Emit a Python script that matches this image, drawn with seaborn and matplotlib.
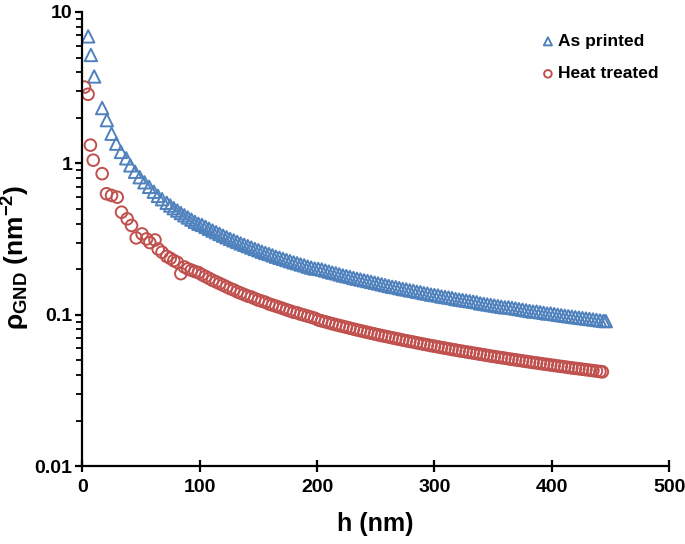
import numpy as np
import matplotlib
matplotlib.use("Agg")
import matplotlib.pyplot as plt
import pandas as pd
import seaborn as sns

# dados (h em nm, rho em nm^-2)
h_printed = [5.1, 7.4, 10.2, 17, 21, 25, 29, 33, 37.5, 41, 45, 49, 53, 57, 61, 64.5, 68,
             72, 75, 78, 81, 84, 87, 90, 93, 96, 99,
             102, 105, 108, 111, 114, 117, 120, 123, 126, 129, 132, 135, 138, 141, 144, 147,
             150, 153, 156, 159, 162, 165, 168, 171, 174, 177, 180, 183, 186, 189, 192, 195,
             198, 201, 204, 207, 210, 213, 216, 219, 222, 225, 228, 231, 234, 237, 240, 243,
             246, 249, 252, 255, 258, 261, 264, 267, 270, 273, 276, 279, 282, 285, 288, 291,
             294, 297, 300, 303, 306, 309, 312, 315, 318, 321, 324, 327, 330, 333, 336, 339,
             342, 345, 348, 351, 354, 357, 360, 363, 366, 369, 372, 375, 378, 381, 384, 387,
             390, 393, 396, 399, 402, 405, 408, 411, 414, 417, 420, 423, 426, 429, 432, 435,
             438, 441, 444, 446]
rho_printed = [6.9, 5.2, 3.75, 2.32, 1.93, 1.57, 1.35, 1.19, 1.08, 0.97, 0.88, 0.81, 0.75, 0.70, 0.65, 0.61, 0.58,
               0.549, 0.527, 0.506, 0.488, 0.470, 0.454, 0.439, 0.425, 0.411, 0.399,
               0.392, 0.381, 0.370, 0.360, 0.351, 0.342, 0.333, 0.325, 0.317, 0.310, 0.303, 0.296, 0.290, 0.284, 0.278, 0.272,
               0.267, 0.261, 0.256, 0.252, 0.247, 0.242, 0.238, 0.234, 0.230, 0.226, 0.222, 0.219, 0.215, 0.212, 0.208, 0.205,
               0.202, 0.201, 0.199, 0.196, 0.193, 0.190, 0.188, 0.185, 0.182, 0.180, 0.178, 0.175, 0.173, 0.171, 0.169, 0.167,
               0.165, 0.163, 0.161, 0.159, 0.157, 0.155, 0.153, 0.152, 0.150, 0.148, 0.147, 0.145, 0.144, 0.142, 0.141, 0.139,
               0.138, 0.136, 0.135, 0.134, 0.132, 0.131, 0.130, 0.129, 0.127, 0.126, 0.125, 0.124, 0.123, 0.122, 0.121, 0.119,
               0.118, 0.117, 0.116, 0.115, 0.114, 0.113, 0.112, 0.112, 0.111, 0.110, 0.109, 0.108, 0.107, 0.106, 0.105, 0.105,
               0.104, 0.103, 0.102, 0.102, 0.101, 0.100, 0.0993, 0.0985, 0.0978, 0.0971, 0.0964, 0.0957, 0.0951, 0.0944, 0.0938, 0.0931,
               0.0925, 0.0918, 0.0912, 0.0908]

h_treated = [2, 5, 7, 9.4, 17, 20.7, 25, 29.8, 33.5, 38.3, 42, 46, 51, 54.8, 57.6, 62, 64.7, 68,
             72, 75, 78, 81, 84, 87, 90, 93, 96, 99,
             102, 105, 108, 111, 114, 117, 120, 123, 126, 129, 132, 135, 138, 141, 144, 147,
             150, 153, 156, 159, 162, 165, 168, 171, 174, 177, 180, 183, 186, 189, 192, 195,
             198, 201, 204, 207, 210, 213, 216, 219, 222, 225, 228, 231, 234, 237, 240, 243,
             246, 249, 252, 255, 258, 261, 264, 267, 270, 273, 276, 279, 282, 285, 288, 291,
             294, 297, 300, 303, 306, 309, 312, 315, 318, 321, 324, 327, 330, 333, 336, 339,
             342, 345, 348, 351, 354, 357, 360, 363, 366, 369, 372, 375, 378, 381, 384, 387,
             390, 393, 396, 399, 402, 405, 408, 411, 414, 417, 420, 423, 426, 429, 432, 435,
             438, 441, 443]
rho_treated = [3.19, 2.86, 1.32, 1.05, 0.855, 0.63, 0.614, 0.598, 0.476, 0.43, 0.389, 0.322, 0.342, 0.317, 0.30, 0.312, 0.272, 0.259,
               0.243, 0.236, 0.228, 0.222, 0.187, 0.207, 0.201, 0.197, 0.193, 0.190,
               0.184, 0.179, 0.174, 0.169, 0.165, 0.161, 0.157, 0.153, 0.149, 0.146, 0.142, 0.139, 0.136, 0.133, 0.131, 0.128,
               0.125, 0.123, 0.121, 0.118, 0.116, 0.114, 0.112, 0.110, 0.108, 0.106, 0.104, 0.103, 0.101, 0.0995, 0.0979, 0.0964,
               0.0949, 0.0925, 0.0912, 0.0899, 0.0886, 0.0873, 0.0861, 0.0849, 0.0838, 0.0827, 0.0816, 0.0805, 0.0795, 0.0785, 0.0775, 0.0765,
               0.0756, 0.0747, 0.0738, 0.0729, 0.0721, 0.0713, 0.0705, 0.0697, 0.0689, 0.0681, 0.0674, 0.0667, 0.0660, 0.0653, 0.0646, 0.0639,
               0.0633, 0.0626, 0.0620, 0.0614, 0.0608, 0.0602, 0.0596, 0.0590, 0.0585, 0.0579, 0.0574, 0.0569, 0.0564, 0.0559, 0.0554, 0.0549,
               0.0544, 0.0539, 0.0534, 0.0530, 0.0525, 0.0521, 0.0517, 0.0512, 0.0508, 0.0504, 0.0500, 0.0496, 0.0492, 0.0488, 0.0484, 0.0481,
               0.0477, 0.0473, 0.0470, 0.0466, 0.0463, 0.0459, 0.0456, 0.0453, 0.0449, 0.0446, 0.0443, 0.0440, 0.0437, 0.0434, 0.0431, 0.0428,
               0.0425, 0.0422, 0.0420]

azul = '#4F81BD'
vermelho = '#C0504D'

sns.set_style("ticks")
plt.rcParams['font.family'] = ['Liberation Sans', 'DejaVu Sans']
plt.rcParams['font.weight'] = 'bold'
plt.rcParams['text.color'] = 'black'
plt.rcParams['axes.labelcolor'] = 'black'
plt.rcParams['xtick.color'] = 'black'
plt.rcParams['ytick.color'] = 'black'
plt.rcParams['mathtext.fontset'] = 'custom'
plt.rcParams['mathtext.rm'] = 'Liberation Sans:bold'
plt.rcParams['mathtext.it'] = 'Liberation Sans:bold'
plt.rcParams['mathtext.bf'] = 'Liberation Sans:bold'
plt.rcParams['mathtext.default'] = 'regular'

fig = plt.figure(figsize=(6.85, 5.44), dpi=100)
ax = fig.add_axes([0.12, 0.143, 0.857, 0.835])

sns.scatterplot(x=h_printed, y=rho_printed, marker='^', s=80, color=azul,
                facecolor='none', edgecolor=azul, linewidth=1.4, label='As printed', ax=ax)
sns.scatterplot(x=h_treated, y=rho_treated, marker='o', s=70, color=vermelho,
                facecolor='none', edgecolor=vermelho, linewidth=1.4, label='Heat treated', ax=ax)

ax.set_yscale('log')
ax.set_xlim(0, 500)
ax.set_ylim(0.01, 10)
ax.set_xticks([0, 100, 200, 300, 400, 500])
ax.set_yticks([0.01, 0.1, 1, 10])
ax.set_yticklabels(['0.01', '0.1', '1', '10'])

for s in ['top', 'right']:
    ax.spines[s].set_visible(False)
for s in ['left', 'bottom']:
    ax.spines[s].set_linewidth(1.6)
    ax.spines[s].set_color('black')

ax.tick_params(axis='y', which='major', direction='out', length=5, width=1.6, labelsize=14, pad=2)
ax.tick_params(axis='y', which='minor', direction='out', length=4, width=1.3)
ax.tick_params(axis='x', which='major', direction='inout', length=8, width=1.6, labelsize=14, pad=5)

ax.set_xlabel('h (nm)', fontsize=18, fontweight='bold', labelpad=12)
ax.set_ylabel('ρ$_{GND}$ (nm$^{-2}$)', fontsize=19, fontweight='bold')
ax.yaxis.set_label_coords(-0.085, 0.46)

leg = ax.legend(loc='upper right', frameon=False, fontsize=12.5, markerscale=0.65,
                handletextpad=0.1, labelspacing=1.0, borderaxespad=0.2,
                handlelength=1.0, bbox_to_anchor=(1.0, 0.975))
for t in leg.get_texts():
    t.set_fontweight('bold')

plt.savefig('out.png', dpi=100)
